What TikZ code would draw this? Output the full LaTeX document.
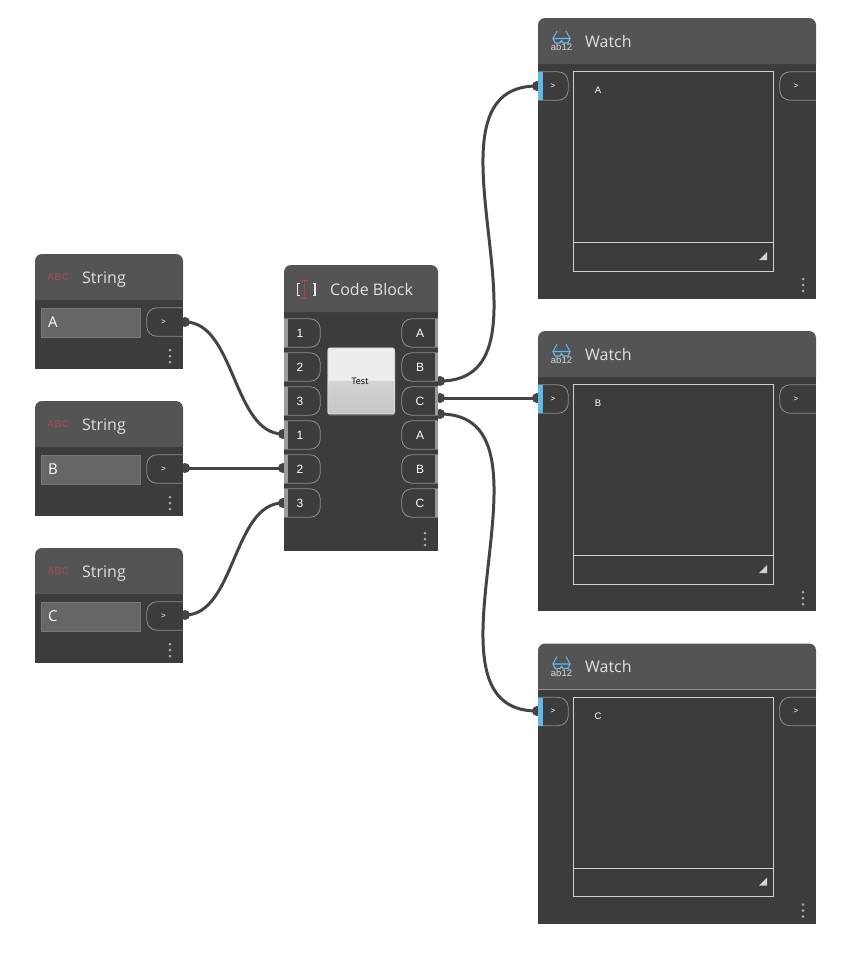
\documentclass[tikz,border=0pt]{standalone}
\usepackage{fontspec}
\setmainfont{Open Sans}
\newfontfamily\portfont{Liberation Sans}
\definecolor{bodygray}{HTML}{3C3C3C}
\definecolor{headgray}{HTML}{545454}
\definecolor{portline}{HTML}{8C8C8C}
\definecolor{bargray}{HTML}{9A9A9A}
\definecolor{barblue}{HTML}{62B9E8}
\definecolor{titletext}{HTML}{E0E0E0}
\definecolor{wirecol}{HTML}{444444}
\definecolor{boxline}{HTML}{777777}
\definecolor{boxfill}{HTML}{666666}
\definecolor{frameline}{HTML}{CFCFCF}
\definecolor{dotcol}{HTML}{A8A8A8}
\definecolor{iconred}{HTML}{B04444}
\definecolor{abcred}{HTML}{8F4F4F}
\tikzset{
  portin/.style={inner sep=0pt,minimum width=36pt,minimum height=28pt,text=white,font=\portfont\fontsize{12}{12}\selectfont},
  smallport/.style={portin,minimum width=36pt,font=\portfont\fontsize{8}{8}\selectfont},
  portedge/.style={draw=portline,line width=0.8pt,rounded corners=10pt},
  title/.style={anchor=base west,inner sep=0pt,text=titletext,font=\fontsize{16}{16}\selectfont},
  pin/.style={circle,fill=wirecol,inner sep=0pt,minimum size=10pt},
  wire/.style={line width=3pt,draw=wirecol},
  valuebox/.style={anchor=north west,draw=boxline,fill=boxfill,inner sep=0pt,minimum width=99pt,minimum height=29pt},
  watchbox/.style={anchor=north west,draw=frameline,line width=0.9pt,inner sep=0pt,minimum width=199.5pt,minimum height=199.5pt},
  dotmark/.style={circle,fill=dotcol,inner sep=0pt,minimum size=3pt},
}
% frame of one block: left, top, right, bottom, bottom of header
\newcommand{\blockframe}[5]{
  \fill [bodygray] (#1,#5) -- (#1,#4) -- (#3,#4) -- (#3,#5) -- cycle;
  \fill [headgray] (#1,#5) [rounded corners=7pt] -- (#1,#2) -- (#3,#2) [sharp corners] -- (#3,#5) -- cycle;
}
% outlines of a port, open on the side of the block
\newcommand{\edgeright}[1]{\draw [portedge] (#1.north west) -- (#1.north east) -- (#1.south east) -- (#1.south west);}
\newcommand{\edgeleft}[1]{\draw [portedge] (#1.north east) -- (#1.north west) -- (#1.south west) -- (#1.south east);}
\begin{document}
\begin{tikzpicture}[x=1pt,y=-1pt]
\useasboundingbox (0,0) rectangle (860,970);

% pins
\node [pin](pinstrA) at (185,322) {};
\node [pin](pinstrB) at (185,468) {};
\node [pin](pinstrC) at (185,615) {};
\node [pin](pinin1) at (283,434) {};
\node [pin](pinin2) at (283,468) {};
\node [pin](pinin3) at (283,503) {};
\node [pin](pinoutB) at (440,381) {};
\node [pin](pinoutC) at (440,398) {};
\node [pin](pinoutD) at (440,414) {};
\node [pin](pinwA) at (537,86) {};
\node [pin](pinwB) at (537,398) {};
\node [pin](pinwC) at (537,711) {};

% wires
\draw [wire] (pinstrA.center) .. controls +(50,0) and +(-50,0) .. (pinin1.center);
\draw [wire] (pinstrB.center) -- (pinin2.center);
\draw [wire] (pinstrC.center) .. controls +(50,0) and +(-50,0) .. (pinin3.center);
\draw [wire] (pinoutB.center) .. controls +(130,0) and +(-130,0) .. (pinwA.center);
\draw [wire] (pinoutC.center) -- (pinwB.center);
\draw [wire] (pinoutD.center) .. controls +(130,0) and +(-130,0) .. (pinwC.center);

% string blocks
\foreach \s/\lab/\dy in {A/A/0,B/B/147,C/C/294}{
  \blockframe{35}{254+\dy}{183}{369+\dy}{300+\dy}
  \node [inner sep=0pt,text=abcred,font=\portfont\bfseries\fontsize{10}{10}\selectfont](abc\s) at (58,277+\dy) {ABC};
  \node [title](strtitle\s) at (82,283+\dy) {String};
  \node [valuebox](val\s) at (41,307.5+\dy) {};
  \node [anchor=west,inner sep=0pt,text=white,font=\fontsize{15}{15}\selectfont](valtext\s) at (48,322+\dy) {\lab};
  \node [smallport](strport\s) at (165,322+\dy) {\hspace{-3pt}>};
  \edgeleft{strport\s}
  \node [dotmark](strdotA\s) at (170,350+\dy) {};
  \node [dotmark](strdotB\s) at (170,356+\dy) {};
  \node [dotmark](strdotC\s) at (170,362+\dy) {};
}

% code block
\blockframe{284}{265}{438}{551}{312}
\draw [white!80!gray,line width=1.2pt] (300,283.5) -- (297.5,283.5) -- (297.5,295.5) -- (300,295.5);
\draw [white!80!gray,line width=1.2pt] (312.5,283.5) -- (315,283.5) -- (315,295.5) -- (312.5,295.5);
\draw [iconred,line width=1.4pt] (301,280.5) -- (307.5,280.5) (304.2,280.5) -- (304.2,298.5) (301,298.5) -- (307.5,298.5);
\node [title](cbtitle) at (330,295) {Code Block};
\foreach \n/\lab/\y in {1/1/333,2/2/367,3/3/401,4/1/435,5/2/469,6/3/503}{
  \node [portin](in\n) at (302,\y) {\hspace{-4pt}\lab};
  \edgeright{in\n}
  \fill [bargray] ([yshift=-0.5pt]in\n.north west) rectangle ([xshift=4pt,yshift=0.5pt]in\n.south west);
}
\foreach \n/\lab/\y in {1/A/333,2/B/367,3/C/401,4/A/435,5/B/469,6/C/503}{
  \node [portin](out\n) at (420,\y) {\lab};
  \edgeleft{out\n}
  \fill [bargray] ([yshift=-0.5pt]out\n.north east) rectangle ([xshift=-3pt,yshift=0.5pt]out\n.south east);
}
\fill [black!62,rounded corners=3pt] (327,349) rectangle (395.5,415.5);
\node [anchor=north west,draw=white!85!black,line width=0.8pt,fill=white!93!black,rounded corners=2pt,minimum width=66.5pt,minimum height=66pt,inner sep=0pt,
  path picture={\shade [top color=white!87!black,bottom color=white!78!black] (path picture bounding box.west) rectangle (path picture bounding box.south east);}](testbtn) at (327.5,347.5) {};
\node [inner sep=0pt,text=black,font=\fontsize{9}{9}\selectfont](testlab) at (360,381) {Test};
\node [dotmark](cbdotA) at (425,533) {};
\node [dotmark](cbdotB) at (425,539) {};
\node [dotmark](cbdotC) at (425,545) {};

% watch blocks
\foreach \s/\lab/\dy/\hb in {A/A/0/281,B/B/313/280,C/C/625.5/280.5}{
  \blockframe{538}{18+\dy}{816}{18+\dy+\hb}{64+\dy}
  \node [inner sep=0pt,text=white!70!gray,font=\portfont\fontsize{9.5}{9.5}\selectfont](icon\s) at (561.5,47.5+\dy) {ab12};
  \draw [barblue,line width=1.2pt,line join=round] (553,38.5+\dy) -- (570,38.5+\dy) -- (568,43+\dy) -- (563,43+\dy) -- (561.5,40.5+\dy) -- (560,43+\dy) -- (555,43+\dy) -- cycle;
  \draw [barblue,line width=1pt] (553,38.5+\dy) -- (557,31+\dy) (570,38.5+\dy) -- (566,31+\dy);
  \node [title](wtitle\s) at (585,47.4+\dy) {Watch};
  \node [smallport,minimum width=30pt](wport\s) at (553,86+\dy) {>};
  \edgeright{wport\s}
  \fill [barblue] (538,72+\dy) rectangle (543,100+\dy);
  \node [watchbox](wbox\s) at (573,71+\dy) {};
  \draw [frameline,line width=0.9pt] (wbox\s.west |- 0,242.5+\dy) -- (wbox\s.east |- 0,242.5+\dy);
  \node [inner sep=0pt,text=white,font=\portfont\fontsize{9.5}{10}\selectfont](wtext\s) at (598,90.4+\dy) {\lab};
  \fill [white!65!gray] (767,252+\dy) -- (767,260+\dy) -- (759,260+\dy) -- cycle;
  \node [smallport](woport\s) at (798,86+\dy) {\hspace{-4pt}>};
  \edgeleft{woport\s}
  \node [dotmark](wdotA\s) at (803,279+\dy) {};
  \node [dotmark](wdotB\s) at (803,285+\dy) {};
  \node [dotmark](wdotC\s) at (803,291+\dy) {};
}

\end{tikzpicture}
\end{document}
